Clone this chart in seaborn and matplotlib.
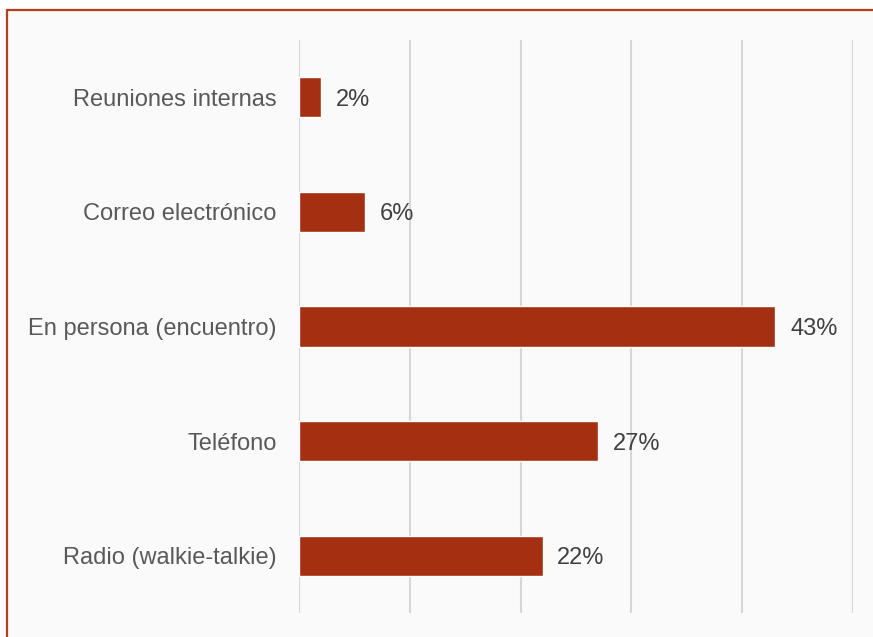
import matplotlib
matplotlib.use("Agg")
import matplotlib.pyplot as plt
from matplotlib.lines import Line2D
from matplotlib.patches import Rectangle
import seaborn as sns
import pandas as pd

categories = [
    "Reuniones internas",
    "Correo electrónico",
    "En persona (encuentro)",
    "Teléfono",
    "Radio (walkie-talkie)",
]
values = [2, 6, 43, 27, 22]

sns.set_theme(style="white")
plt.rcParams["font.family"] = ["Liberation Sans", "DejaVu Sans"]

W, H = 873, 637
fig = plt.figure(figsize=(W / 100, H / 100), dpi=100)
fig.patch.set_facecolor("white")

# panel background with a border along the top and left edges
bx, by = 7, 10
fig.add_artist(Rectangle((bx / W, 0), 1 - bx / W, 1 - by / H,
                         transform=fig.transFigure, facecolor="#FAFAFA",
                         edgecolor="none", zorder=0))
border = "#B83C1E"
fig.add_artist(Line2D([bx / W, 1], [1 - by / H, 1 - by / H],
                      transform=fig.transFigure, color=border, lw=1.6))
fig.add_artist(Line2D([bx / W, bx / W], [0, 1 - by / H],
                      transform=fig.transFigure, color=border, lw=1.6))

x0, x1 = 299, 853
y_top, y_bot = 40, 613
ax = fig.add_axes([x0 / W, 1 - y_bot / H, (x1 - x0) / W, (y_bot - y_top) / H])
ax.set_facecolor("none")

df = pd.DataFrame({"canal": categories, "pct": values})
sns.barplot(data=df, x="pct", y="canal", orient="h", color="#A52F11",
            saturation=1, width=0.35, ax=ax, zorder=3)

ax.set_xlim(0, 50)
ax.set_ylim(len(categories) - 0.5, -0.5)
ax.set_xticks(range(0, 51, 10))
ax.set_xticklabels([])
ax.xaxis.grid(True, color="#D6D6D6", lw=1.5)
ax.yaxis.grid(False)
ax.set_axisbelow(True)
for s in ax.spines.values():
    s.set_visible(False)
ax.set_xlabel("")
ax.set_ylabel("")
ax.tick_params(axis="y", length=0, pad=16, labelsize=17, labelcolor="#595959")
ax.tick_params(axis="x", length=0)

labels = ax.bar_label(ax.containers[0], labels=[f"{v}%" for v in values],
                      padding=10.5, fontsize=17, color="#404040")
for t in labels:
    t.set_va("center_baseline")

fig.savefig("out.png", dpi=100, facecolor=fig.get_facecolor())
